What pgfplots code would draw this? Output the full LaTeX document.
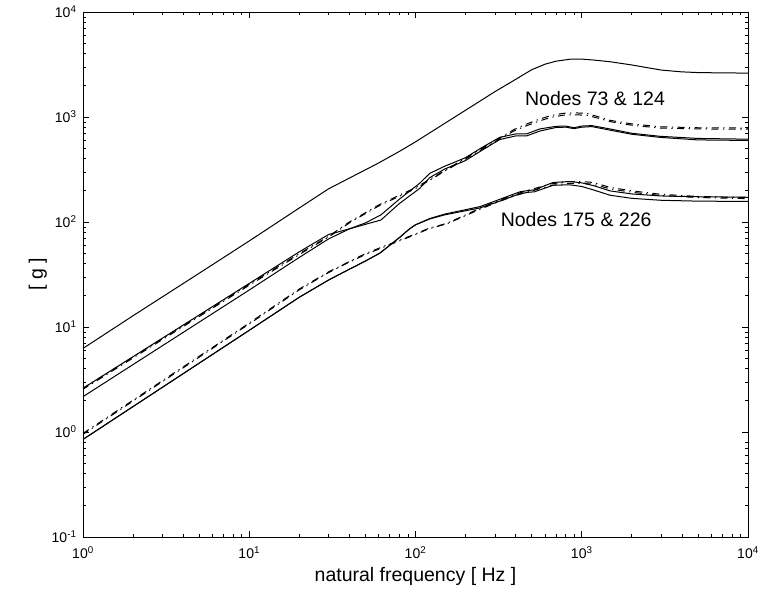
\documentclass[border=0pt]{standalone}
\usepackage{fontspec}
\setmainfont{Liberation Sans}
\usepackage{pgfplots}
\pgfplotsset{compat=1.18}

\begin{document}
\begin{tikzpicture}
\begin{axis}[
    name=ax,
    xmode=log, ymode=log,
    scale only axis, width=665pt, height=525pt,
    xmin=1, xmax=10000, ymin=0.1, ymax=10000,
    xtick={1,10,100,1000,10000},
    xticklabels={10\textsuperscript{0},10\textsuperscript{1},10\textsuperscript{2},10\textsuperscript{3},10\textsuperscript{4}},
    ytick={0.1,1,10,100,1000,10000},
    yticklabels={10\textsuperscript{-1},10\textsuperscript{0},10\textsuperscript{1},10\textsuperscript{2},10\textsuperscript{3},10\textsuperscript{4}},
    minor xtick={2,3,...,9,20,30,...,90,200,300,...,900,2000,3000,...,9000},
    minor ytick={0.2,0.3,...,0.9,2,3,...,9,20,30,...,90,200,300,...,900,2000,3000,...,9000},
    tick align=inside,
    major tick length=6pt, minor tick length=3.5pt,
    every tick/.style={black, line width=0.6pt},
    axis line style={line width=0.8pt},
    tick label style={font=\fontsize{14}{16}\selectfont},
    xticklabel style={yshift=-6pt},
    yticklabel style={xshift=-3pt},
    label style={font=\fontsize{19.5}{22}\selectfont},
    xlabel={natural frequency [ Hz ]},
    ylabel={[ g ]},
    xlabel style={at={(axis description cs:0.5,-0.0857)}, anchor=base},
    ylabel style={at={(axis description cs:-0.068,0.5)}, anchor=center},
    sl/.style={black, solid, mark=none, line width=1pt},
    dd/.style={black, mark=none, line width=1pt, dash pattern=on 7pt off 4.5pt on 1.2pt off 4.5pt},
]
% input
\addplot[sl] coordinates {(1,6.25)(2,12.8)(5,32.5)(10,66)(20,136)(30,207)(40,262)(50,314)(60,365)(80,470)(100,580)(150,870)(200,1160)(300,1740)(400,2280)(500,2820)(600,3180)(700,3400)(850,3550)(1000,3560)(1200,3480)(1500,3350)(2000,3130)(3000,2800)(4000,2690)(5000,2650)(7000,2630)(10000,2620)};
% nodes 73 & 124
\addplot[sl] coordinates {(1,2.61)(10,26)(20,52)(30,76)(40,86)(50,98)(62,117)(80,165)(106,234)(122,291)(150,340)(189,395)(200,410)(250,510)(321,640)(400,690)(465,690)(560,770)(700,815)(800,820)(900,790)(1000,820)(1150,828)(1476,770)(2000,700)(2951,655)(5000,625)(10000,615)};
\addplot[sl] coordinates {(1,2.17)(10,22.5)(20,46)(30,69)(40,86)(50,95)(62,104.5)(80,150)(106,209)(122,265)(150,320)(189,370)(200,385)(250,480)(321,610)(400,660)(465,660)(560,735)(700,795)(800,800)(900,775)(1000,800)(1150,810)(1476,750)(2000,685)(2951,640)(5000,605)(10000,598)};
\addplot[dd] coordinates {(1,2.61)(10,25.5)(20,50)(30,73)(40,100)(60,145)(80,180)(100,212)(122,255)(150,310)(189,385)(250,500)(321,630)(387,752)(450,840)(560,957)(650,1030)(773,1084)(900,1095)(1069,1084)(1300,990)(1476,930)(2000,860)(2951,808)(5000,790)(10000,785)};
\addplot[dd, dash phase=1pt] coordinates {(1,2.55)(10,25)(20,49)(30,72)(40,98)(60,142)(80,176)(100,208)(122,250)(150,305)(189,378)(250,490)(321,615)(387,730)(450,810)(560,920)(650,990)(773,1040)(900,1050)(1069,1040)(1300,960)(1476,905)(2000,835)(2951,785)(5000,770)(10000,765)};
% nodes 175 & 226
\addplot[sl] coordinates {(1,0.85)(10,9.3)(20,19.2)(30,28)(40,35.5)(50,42.5)(61,50.5)(70,60)(80,71)(92,86)(100,94)(122,108)(150,119)(200,131)(244,140)(300,158)(425,194)(480,200)(520,202)(600,222)(673,238)(848,243)(1000,236)(1200,220)(1476,198)(2000,185)(3000,177)(5000,174)(10000,172)};
\addplot[sl] coordinates {(1,0.85)(10,9.3)(20,19.2)(30,28)(40,35.5)(50,42.5)(61,50.5)(70,60)(80,71)(92,86)(100,94)(122,107)(150,117)(200,128)(244,136)(300,152)(425,186)(480,192)(520,194)(600,210)(673,224)(848,226)(1000,218)(1200,200)(1476,180)(2000,168)(3000,161)(5000,158)(10000,157)};
\addplot[dd] coordinates {(1,0.97)(10,10.9)(20,23)(30,33.5)(40,42)(50,50)(65,59)(80,67)(100,77)(120,87)(154,97)(200,117)(244,135)(300,155)(387,181)(500,205)(650,230)(810,242)(1000,243)(1170,238)(1476,214)(2000,198)(2951,184)(5000,175)(10000,171)};
\addplot[dd, dash phase=1pt] coordinates {(1,0.95)(10,10.7)(20,22.6)(30,33)(40,41.5)(50,49)(65,58)(80,66)(100,76)(120,86)(154,96)(200,115)(244,132)(300,151)(387,176)(500,198)(650,222)(810,233)(1000,234)(1170,229)(1476,207)(2000,192)(2951,179)(5000,171)(10000,167)};
\node[anchor=base west, inner sep=0pt, font=\fontsize{19.5}{22}\selectfont] at (axis cs:455,1274) {Nodes 73 \& 124};
\node[anchor=base west, inner sep=0pt, font=\fontsize{19.5}{22}\selectfont] at (axis cs:325,90) {Nodes 175 \& 226};
\end{axis}
\pgfresetboundingbox
\path[use as bounding box] ([shift={(-83pt,-58pt)}]ax.south west) rectangle ([shift={(14pt,12pt)}]ax.north east);
\end{tikzpicture}
\end{document}
